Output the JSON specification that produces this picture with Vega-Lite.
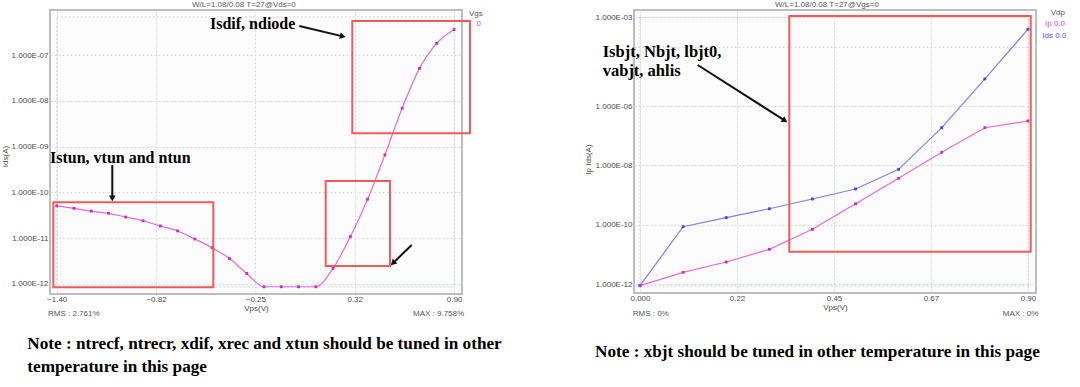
{
  "$schema": "https://vega.github.io/schema/vega-lite/v6.json",
  "autosize": {"type": "none"},
  "padding": {"left": 50, "top": 10, "right": 1030, "bottom": 377},
  "background": "#ffffff",
  "bounds": "flush",
  "spacing": 172,
  "config": {
    "view": {"stroke": "#bdbdbd", "strokeWidth": 2, "fill": "#fcfcfc"},
    "axis": {"labelFont": "Liberation Sans", "labelFontSize": 8, "labelColor": "#4a4a4a", "titleFont": "Liberation Sans", "titleFontSize": 8, "titleFontWeight": "normal", "titleColor": "#4a4a4a", "ticks": false, "domain": false, "grid": true, "gridColor": "#d2dada", "gridDash": [2, 2], "gridWidth": 1},
    "text": {"font": "Liberation Sans"}
  },
  "datasets": {
    "leftIds": [
      {"x": -1.4, "y": 5.1e-11}, {"x": -1.3, "y": 4.5e-11}, {"x": -1.2, "y": 3.9e-11}, {"x": -1.1, "y": 3.5e-11},
      {"x": -1.0, "y": 2.9e-11}, {"x": -0.9, "y": 2.4e-11}, {"x": -0.8, "y": 1.85e-11}, {"x": -0.7, "y": 1.44e-11},
      {"x": -0.6, "y": 9.6e-12}, {"x": -0.5, "y": 6.2e-12}, {"x": -0.4, "y": 3.6e-12}, {"x": -0.3, "y": 1.7e-12},
      {"x": -0.2, "y": 8.7e-13}, {"x": -0.1, "y": 8.7e-13}, {"x": 0.0, "y": 8.7e-13}, {"x": 0.1, "y": 8.7e-13},
      {"x": 0.2, "y": 2.2e-12}, {"x": 0.3, "y": 1.08e-11}, {"x": 0.4, "y": 7.1e-11}, {"x": 0.5, "y": 6.6e-10},
      {"x": 0.6, "y": 6.9e-9}, {"x": 0.7, "y": 5.1e-8}, {"x": 0.8, "y": 1.8e-7}, {"x": 0.9, "y": 3.6e-7}
    ],
    "rightSeries": [
      {"series": "Ids", "x": 0.0, "y": 8.8e-13}, {"series": "Ids", "x": 0.1, "y": 8.6e-11}, {"series": "Ids", "x": 0.2, "y": 1.73e-10},
      {"series": "Ids", "x": 0.3, "y": 3.47e-10}, {"series": "Ids", "x": 0.4, "y": 7.4e-10}, {"series": "Ids", "x": 0.5, "y": 1.61e-9},
      {"series": "Ids", "x": 0.6, "y": 7.4e-9}, {"series": "Ids", "x": 0.7, "y": 1.88e-7}, {"series": "Ids", "x": 0.8, "y": 8.3e-6},
      {"series": "Ids", "x": 0.9, "y": 3.97e-4},
      {"series": "Ip", "x": 0.0, "y": 8.8e-13}, {"series": "Ip", "x": 0.1, "y": 2.48e-12}, {"series": "Ip", "x": 0.2, "y": 5.52e-12},
      {"series": "Ip", "x": 0.3, "y": 1.48e-11}, {"series": "Ip", "x": 0.4, "y": 7.0e-11}, {"series": "Ip", "x": 0.5, "y": 5.1e-10},
      {"series": "Ip", "x": 0.6, "y": 3.69e-9}, {"series": "Ip", "x": 0.7, "y": 2.79e-8}, {"series": "Ip", "x": 0.8, "y": 1.88e-7},
      {"series": "Ip", "x": 0.9, "y": 3.17e-7}
    ]
  },
  "hconcat": [
    {
      "width": 412,
      "height": 284,
      "encoding": {
        "x": {"field": "x", "type": "quantitative",
          "scale": {"domain": [-1.4388, 0.9463], "nice": false, "zero": false},
          "axis": {"values": [-1.4, -0.825, -0.25, 0.325, 0.9], "labelExpr": "format((datum.value < 0 ? -1 : 1) * floor(abs(datum.value) * 100 + 1e-6) / 100, '.2f')", "title": "Vps(V)", "labelPadding": 1, "titlePadding": 1, "labelFlush": true, "labelFlushOffset": 3}},
        "y": {"field": "y", "type": "quantitative",
          "scale": {"type": "log", "domain": [6.048e-13, 9.612e-7], "nice": false},
          "axis": {"values": [1e-12, 1e-11, 1e-10, 1e-9, 1e-8, 1e-7], "labelExpr": "'1.000E-' + (round(-log(datum.value) / LN10) < 10 ? '0' : '') + round(-log(datum.value) / LN10)", "title": "Ids(A)", "labelPadding": 2, "titlePadding": 2, "titleY": 146}}
      },
      "layer": [
        {"data": {"values": [{"x": -1.4, "x2": 0.9, "y": 8.6e-13, "y2": 6.76e-7}]},
         "mark": {"type": "rect", "filled": false, "stroke": "#cdd6d6", "strokeWidth": 1, "strokeDash": [2, 2]},
         "encoding": {"x2": {"field": "x2"}, "y2": {"field": "y2"}}},
        {"data": {"name": "leftIds"},
         "mark": {"type": "line", "stroke": "#e36ad8", "strokeWidth": 1.2, "interpolate": "monotone"}},
        {"data": {"name": "leftIds"},
         "mark": {"type": "point", "filled": true, "shape": "square", "size": 8, "color": "#c62fb8", "opacity": 1}},
        {"data": {"values": [
            {"x": -1.4197, "x2": -0.4934, "y": 8.48e-13, "y2": 6.08e-11},
            {"x": 0.1572, "x2": 0.5295, "y": 2.47e-12, "y2": 1.775e-10},
            {"x": 0.3112, "x2": 0.9926, "y": 1.953e-9, "y2": 5.53e-7}]},
         "mark": {"type": "rect", "filled": false, "stroke": "#f05a5a", "strokeWidth": 2},
         "encoding": {"x2": {"field": "x2"}, "y2": {"field": "y2"}}},
        {"data": {"values": [
            {"x": -1.0781, "y": 3.97e-10, "x2": -1.0781, "y2": 7.44e-11},
            {"x": 0.0044, "y": 4.3e-7, "x2": 0.2563, "y2": 2.55e-7},
            {"x": 0.6551, "y": 7.11e-12, "x2": 0.5463, "y2": 2.85e-12}]},
         "mark": {"type": "rule", "color": "#111111", "strokeWidth": 2},
         "encoding": {"x2": {"field": "x2"}, "y2": {"field": "y2"}}},
        {"data": {"values": [{"x": -1.0781, "y": 7.44e-11}]},
         "mark": {"type": "point", "shape": "triangle-up", "filled": true, "color": "#111111", "size": 45, "angle": 180, "opacity": 1}},
        {"data": {"values": [{"x": 0.2563, "y": 2.55e-7}]},
         "mark": {"type": "point", "shape": "triangle-up", "filled": true, "color": "#111111", "size": 45, "angle": 103, "opacity": 1}},
        {"data": {"values": [{"x": 0.5463, "y": 2.85e-12}]},
         "mark": {"type": "point", "shape": "triangle-up", "filled": true, "color": "#111111", "size": 45, "angle": 226, "opacity": 1}},
        {"data": {"values": [
            {"x": -0.5126, "y": 3.7e-7, "text": "Isdif, ndiode"},
            {"x": -1.4388, "y": 4.38e-10, "text": "Istun, vtun and ntun"}]},
         "mark": {"type": "text", "font": "Liberation Serif", "fontWeight": "bold", "fontSize": 16, "align": "left", "baseline": "alphabetic", "color": "#000000"},
         "encoding": {"text": {"field": "text", "type": "nominal"}}},
        {"data": {"values": [
            {"x": -1.5702, "y": 3.81e-14, "text": "Note : ntrecf, ntrecr, xdif, xrec and xtun should be tuned in other\ntemperature in this page"}]},
         "mark": {"type": "text", "font": "Liberation Serif", "fontWeight": "bold", "fontSize": 17.2, "lineBreak": "\n", "lineHeight": 23, "align": "left", "baseline": "alphabetic", "color": "#000000"},
         "encoding": {"text": {"field": "text", "type": "nominal"}}},
        {"data": {"values": [
            {"x": -0.6168, "y": 1.236e-6, "text": "W/L=1.08/0.08  T=27@Vds=0"},
            {"x": -1.4504, "y": 2.21e-13, "text": "RMS : 2.761%"},
            {"x": 0.6626, "y": 2.21e-13, "text": "MAX : 9.758%"},
            {"x": 0.9868, "y": 7.86e-7, "text": "Vgs"}]},
         "mark": {"type": "text", "fontSize": 8, "align": "left", "baseline": "middle", "color": "#555555"},
         "encoding": {"text": {"field": "text", "type": "nominal"}}},
        {"data": {"values": [{"x": 1.0302, "y": 4.75e-7, "text": "0"}]},
         "mark": {"type": "text", "fontSize": 8, "align": "left", "baseline": "middle", "color": "#e040d8"},
         "encoding": {"text": {"field": "text", "type": "nominal"}}}
      ]
    },
    {
      "width": 402,
      "height": 283,
      "encoding": {
        "x": {"field": "x", "type": "quantitative",
          "scale": {"domain": [-0.0139, 0.9186], "nice": false, "zero": false},
          "axis": {"values": [0, 0.225, 0.45, 0.675, 0.9], "labelExpr": "datum.value == 0 ? '0.000' : format(floor(datum.value * 100 + 1e-6) / 100, '.2f')", "title": "Vps(V)", "labelPadding": 1, "titlePadding": 1, "labelFlush": true, "labelFlushOffset": 1}},
        "y": {"field": "y", "type": "quantitative",
          "scale": {"type": "log", "domain": [4.97e-13, 1.763e-3], "nice": false},
          "axis": {"values": [1e-12, 1e-10, 1e-8, 1e-6, 1e-4, 1e-3], "labelExpr": "round(-log(datum.value) / LN10) == 4 ? '' : '1.000E-' + (round(-log(datum.value) / LN10) < 10 ? '0' : '') + round(-log(datum.value) / LN10)", "title": "Ip Ids(A)", "labelPadding": 2, "titlePadding": 3, "titleY": 149}}
      },
      "layer": [
        {"data": {"values": [{"x": 0, "x2": 0.9, "y": 8.5e-13, "y2": 1e-3}]},
         "mark": {"type": "rect", "filled": false, "stroke": "#cdd6d6", "strokeWidth": 1, "strokeDash": [2, 2]},
         "encoding": {"x2": {"field": "x2"}, "y2": {"field": "y2"}}},
        {"data": {"name": "rightSeries"},
         "mark": {"type": "line", "strokeWidth": 1.2},
         "encoding": {"stroke": {"field": "series", "type": "nominal", "scale": {"domain": ["Ids", "Ip"], "range": ["#7f7fe6", "#e36ad8"]}, "legend": null}}},
        {"data": {"name": "rightSeries"},
         "mark": {"type": "point", "filled": true, "shape": "square", "size": 8, "opacity": 1},
         "encoding": {"fill": {"field": "series", "type": "nominal", "scale": {"domain": ["Ids", "Ip"], "range": ["#4545cc", "#c62fb8"]}, "legend": null}}},
        {"data": {"values": [{"x": 0.3463, "x2": 0.9063, "y": 1.23e-11, "y2": 1.106e-3}]},
         "mark": {"type": "rect", "filled": false, "stroke": "#f05a5a", "strokeWidth": 2},
         "encoding": {"x2": {"field": "x2"}, "y2": {"field": "y2"}}},
        {"data": {"values": [{"x": 0.1339, "y": 2.46e-5, "x2": 0.3361, "y2": 3.26e-7}]},
         "mark": {"type": "rule", "color": "#111111", "strokeWidth": 2},
         "encoding": {"x2": {"field": "x2"}, "y2": {"field": "y2"}}},
        {"data": {"values": [{"x": 0.3361, "y": 3.26e-7}]},
         "mark": {"type": "point", "shape": "triangle-up", "filled": true, "color": "#111111", "size": 45, "angle": 122, "opacity": 1}},
        {"data": {"values": [{"x": -0.0865, "y": 4.47e-5, "text": "Isbjt, Nbjt, lbjt0,\nvabjt, ahlis"}]},
         "mark": {"type": "text", "font": "Liberation Serif", "fontWeight": "bold", "fontSize": 16.5, "lineBreak": "\n", "lineHeight": 18.5, "align": "left", "baseline": "alphabetic", "color": "#000000"},
         "encoding": {"text": {"field": "text", "type": "nominal"}}},
        {"data": {"values": [{"x": -0.1044, "y": 3.51e-15, "text": "Note : xbjt should be tuned in other temperature in this page"}]},
         "mark": {"type": "text", "font": "Liberation Serif", "fontWeight": "bold", "fontSize": 17.2, "align": "left", "baseline": "alphabetic", "color": "#000000"},
         "encoding": {"text": {"field": "text", "type": "nominal"}}},
        {"data": {"values": [
            {"x": 0.3132, "y": 2.6e-3, "text": "W/L=1.08/0.08  T=27@Vgs=0"},
            {"x": -0.0169, "y": 9.69e-14, "text": "RMS : 0%"},
            {"x": 0.8414, "y": 9.69e-14, "text": "MAX : 0%"},
            {"x": 0.9527, "y": 1.397e-3, "text": "Vdp"}]},
         "mark": {"type": "text", "fontSize": 8, "align": "left", "baseline": "middle", "color": "#555555"},
         "encoding": {"text": {"field": "text", "type": "nominal"}}},
        {"data": {"values": [{"x": 0.9395, "y": 5.94e-4, "text": "Ip 0.0"}]},
         "mark": {"type": "text", "fontSize": 8, "align": "left", "baseline": "middle", "color": "#e040d8"},
         "encoding": {"text": {"field": "text", "type": "nominal"}}},
        {"data": {"values": [{"x": 0.9332, "y": 2.34e-4, "text": "Ids 0.0"}]},
         "mark": {"type": "text", "fontSize": 8, "align": "left", "baseline": "middle", "color": "#5555d5"},
         "encoding": {"text": {"field": "text", "type": "nominal"}}}
      ]
    }
  ]
}
